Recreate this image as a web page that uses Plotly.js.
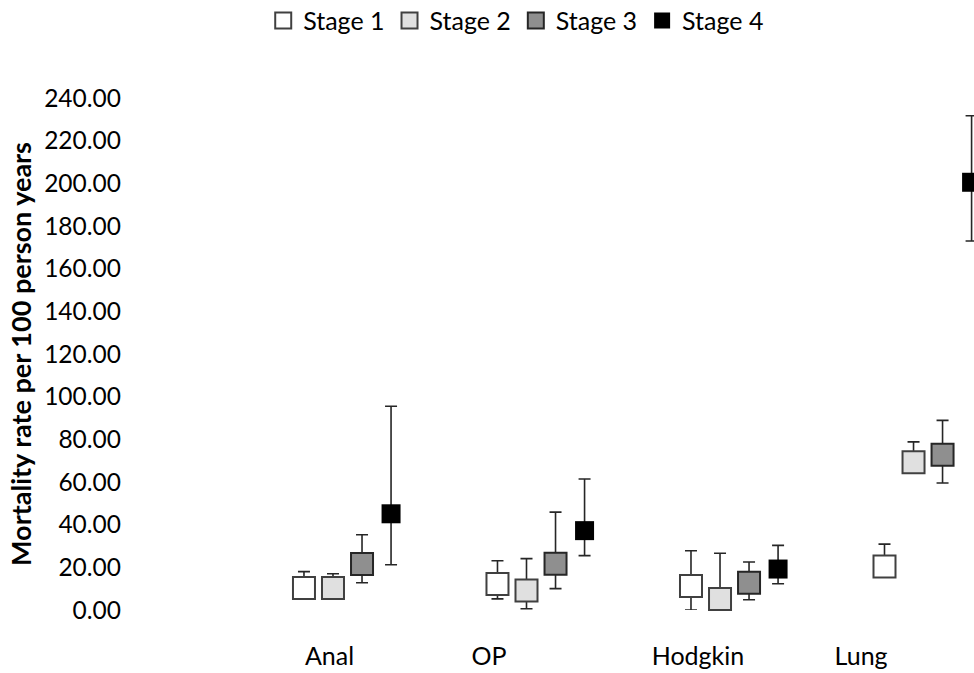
<!DOCTYPE html>
<html>
<head>
<meta charset="utf-8">
<script src="https://cdn.plot.ly/plotly-3.0.1.min.js"></script>
<style>html,body{margin:0;padding:0;background:#fff;}#chart{width:974px;height:673px;}</style>
</head>
<body>
<div id="chart"></div>
<script>
// ---- data ----
const categories = ['Anal', 'OP', 'Hodgkin', 'Lung'];
const stageNames = ['Stage 1', 'Stage 2', 'Stage 3', 'Stage 4'];

const stage1 = [10.3, 12.2, 11.3, 20.4];
const stage1Upper = [18.0, 23.1, 27.8, 30.9];
const stage1Lower = [8.0, 5.2, 0.0, 16.0];

const stage2 = [10.3, 9.1, 5.2, 69.2];
const stage2Upper = [17.0, 24.1, 26.6, 78.8];
const stage2Lower = [7.0, 0.6, 1.0, 65.0];

const stage3 = [21.6, 21.7, 12.8, 72.8];
const stage3Upper = [35.3, 45.9, 22.5, 88.9];
const stage3Lower = [12.8, 10.0, 4.8, 59.5];

const stage4 = [45.1, 37.2, 19.2, 200.5];
const stage4Upper = [95.5, 61.4, 30.3, 231.7];
const stage4Lower = [21.2, 25.5, 12.3, 173.0];

const yTicks = [0, 20, 40, 60, 80, 100, 120, 140, 160, 180, 200, 220, 240];

// ---- styling ----
const FONT = 'Lato, "Liberation Sans", sans-serif';
const stageOffset = 0.15;           // horizontal shift between stages inside a category
const labelShift = [0.132, -0.044, 0.036, -0.121]; // label placement relative to group start
const fills = ['#ffffff', '#e0e0e0', '#8f8f8f', '#000000'];
const borders = ['#404040', '#404040', '#262626', '#000000'];
const sizes = [22, 22, 22, 19];
const borderW = [2, 2, 2, 0];

const series = [
  [stage1, stage1Upper, stage1Lower],
  [stage2, stage2Upper, stage2Lower],
  [stage3, stage3Upper, stage3Lower],
  [stage4, stage4Upper, stage4Lower]
];

const traces = series.map(function (s, i) {
  const vals = s[0], up = s[1], lo = s[2];
  return {
    type: 'scatter',
    mode: 'markers',
    name: stageNames[i],
    x: categories.map(function (c, g) { return g + i * stageOffset; }),
    y: vals,
    cliponaxis: false,
    marker: {
      symbol: 'square',
      size: sizes[i],
      color: fills[i],
      line: { color: borders[i], width: borderW[i] }
    },
    error_y: {
      type: 'data',
      symmetric: false,
      array: up.map(function (u, k) { return u - vals[k]; }),
      arrayminus: lo.map(function (l, k) { return vals[k] - l; }),
      color: '#262626',
      thickness: 1.6,
      width: 6
    }
  };
});

const layout = {
  width: 974,
  height: 673,
  paper_bgcolor: '#ffffff',
  plot_bgcolor: '#ffffff',
  margin: { l: 130, r: 0, t: 98, b: 63, pad: 0 },
  font: { family: FONT, size: 24, color: '#000000' },
  showlegend: true,
  legend: {
    orientation: 'h',
    xref: 'container', yref: 'container',
    x: 0.53, xanchor: 'center',
    y: 0.969, yanchor: 'middle',
    font: { family: FONT, size: 25, color: '#000' },
    itemwidth: 30,
    tracegroupgap: 0
  },
  xaxis: {
    range: [-0.899, 3.4625],
    showgrid: false, zeroline: false, showline: false,
    ticks: '',
    tickmode: 'array',
    tickvals: categories.map(function (c, g) { return g + labelShift[g]; }),
    ticktext: categories,
    ticklabelstandoff: 29,
    tickfont: { family: FONT, size: 25, color: '#000' }
  },
  yaxis: {
    range: [0, 240],
    showgrid: false, zeroline: false, showline: false,
    ticks: '',
    tickmode: 'array',
    tickvals: yTicks,
    ticktext: yTicks.map(function (v) { return v.toFixed(2); }),
    ticklabelstandoff: 8,
    tickfont: { family: FONT, size: 24.5, color: '#000' },
    title: {
      text: '<b>Mortality rate per 100 person years</b>',
      font: { family: FONT, size: 27, color: '#000' },
      standoff: 4
    }
  }
};

Plotly.newPlot('chart', traces, layout, { displayModeBar: false, staticPlot: true });
</script>
</body>
</html>
